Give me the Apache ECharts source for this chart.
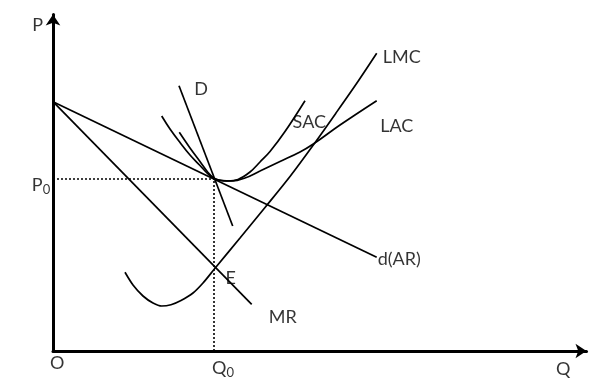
<!DOCTYPE html>
<html>
<head>
<meta charset="utf-8">
<script src="https://cdn.jsdelivr.net/npm/echarts@6/dist/echarts.min.js"></script>
<style>html,body{margin:0;padding:0;background:#fff;}#c{width:594px;height:392px;}</style>
</head>
<body>
<div id="c"></div>
<script>
// Data (arbitrary quantity / price units)
const p0 = 172;
const q0 = 161;
const demandAR = [[0, 249.3], [323.7, 93.7]];
const marginalRevenue = [[0, 249.3], [198.7, 46.7]];
const demandD = [[126, 265.3], [179.7, 125]];
const lmc = [[72, 78.7], [80, 66], [90, 55], [100, 48], [108.7, 45], [118, 46.3], [128, 50.5], [140, 58], [150, 68], [162, 82.7], [187, 113], [212, 143.5], [237, 174.5], [260.3, 206], [283, 238], [305.3, 270], [323.7, 297.7]];
const lac = [[108.7, 235], [117, 222], [127, 208.5], [137, 196], [147, 185.5], [155, 177], [161, 172.5], [169, 170.5], [179, 170], [192, 173], [207, 180], [227, 189.5], [247, 199], [260.3, 207], [287, 226], [323.7, 250.3]];
const sac = [[126.3, 218.7], [137, 203], [147, 189.5], [155, 178.5], [161, 172.8], [167, 170.7], [175, 170], [185, 171.5], [197, 179], [207, 189], [217, 199.5], [232, 219.5], [252, 250.3]];
const annotations = [
  { text: 'P', at: [-15.3, 326] },
  { text: 'P0', at: [-12, 166] },
  { text: 'O', at: [4.3, -11.7] },
  { text: 'Q0', at: [170, -17.3] },
  { text: 'Q', at: [510.3, -18.3] },
  { text: 'D', at: [148, 261.7] },
  { text: 'LMC', at: [348.7, 294.3] },
  { text: 'LAC', at: [343.7, 225] },
  { text: 'SAC', at: [256.3, 229.3] },
  { text: 'd(AR)', at: [346.3, 92] },
  { text: 'E', at: [177.7, 72.7] },
  { text: 'MR', at: [229.7, 34.3] }
];

const FONT = 'Lato';
const curve = (data, smooth) => ({
  type: 'line', data, smooth: smooth || false, showSymbol: false, symbol: 'none',
  lineStyle: { color: '#000', width: 1.7 }, silent: true, animation: false, clip: false
});
const guide = (data) => ({
  type: 'line', data, showSymbol: false, symbol: 'none',
  lineStyle: { color: '#000', width: 1.6, type: [2, 2] }, silent: true, animation: false
});

const fmt = (t) => {
  if (t === 'P0') return '{m|P}{s|0}';
  if (t === 'Q0') return '{m|Q}{s|0}';
  return '{m|' + t + '}';
};

const chart = echarts.init(document.getElementById('c'), null, { renderer: 'canvas' });
chart.setOption({
  backgroundColor: '#fff',
  animation: false,
  grid: { left: 53, right: 7.5, top: 14.5, bottom: 41 },
  xAxis: {
    type: 'value', min: 0, max: 533.5,
    axisLine: { show: true, onZero: false, symbol: ['none', 'arrow'], symbolSize: [11, 11], lineStyle: { color: '#000', width: 3 } },
    axisTick: { show: false }, axisLabel: { show: false }, splitLine: { show: false }
  },
  yAxis: {
    type: 'value', min: 0, max: 336.5,
    axisLine: { show: true, onZero: false, symbol: ['none', 'arrow'], symbolSize: [11, 11], lineStyle: { color: '#000', width: 3 } },
    axisTick: { show: false }, axisLabel: { show: false }, splitLine: { show: false }
  },
  series: [
    guide([[0, p0], [q0, p0]]),
    guide([[q0, 0], [q0, p0]]),
    curve(demandAR),
    curve(marginalRevenue),
    curve(demandD),
    curve(lmc, 0.3),
    curve(lac, 0.4),
    curve(sac, 0.4),
    {
      type: 'scatter', clip: false, silent: true, animation: false,
      symbolSize: 1, itemStyle: { color: 'rgba(0,0,0,0)' },
      data: annotations.map(a => ({ value: a.at, name: a.text })),
      label: {
        show: true, position: 'inside', align: 'center', verticalAlign: 'middle',
        formatter: (p) => fmt(p.name),
        rich: {
          m: { fontFamily: FONT, fontSize: 18, color: '#000' },
          s: { fontFamily: FONT, fontSize: 13, color: '#000', padding: [9, 0, 0, 0] }
        }
      }
    }
  ]
});
</script>
</body>
</html>
